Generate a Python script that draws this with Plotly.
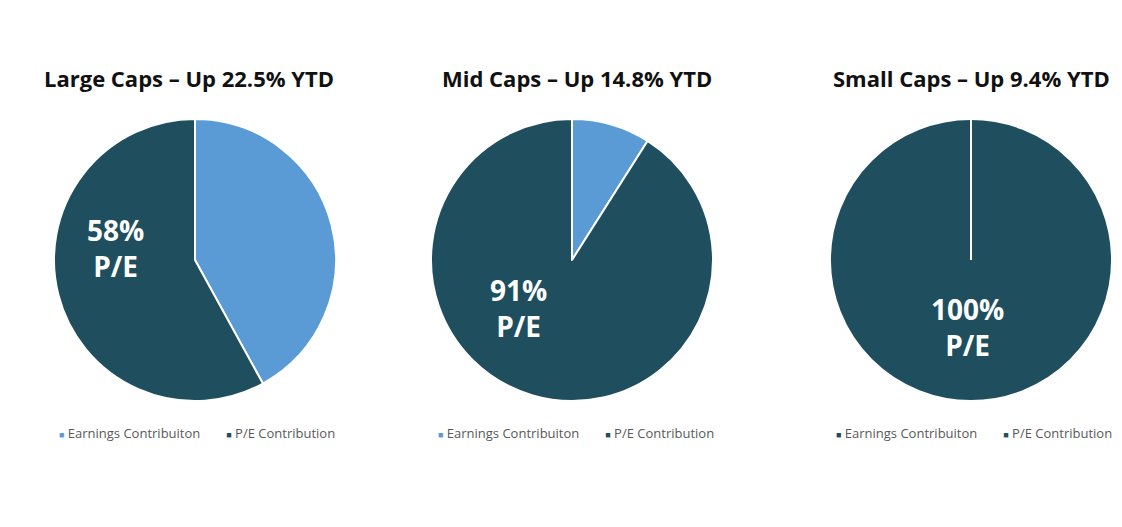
import plotly.graph_objects as go

W, H = 1122, 527

titles = ["Large Caps \u2013 Up 22.5% YTD", "Mid Caps \u2013 Up 14.8% YTD", "Small Caps \u2013 Up 9.4% YTD"]
categories = ["Earnings Contribuiton", "P/E Contribution"]
earnings = [42, 9, 0]
pe = [58, 91, 100]
labels = ["58%<br>P/E", "91%<br>P/E", "100%<br>P/E"]

LIGHT = "#5B9BD5"
DARK = "#1F4E5F"
GRAY = "#595959"
FONT = "Open Sans"

# layout (pixels)
centers_x = [195, 572, 971]
center_y = 260
radius = 141
label_off = [(-80, -12), (-54, 48), (-4, 67)]
title_x = [189, 577, 971]
legend_x = [197, 576, 974]

def px(x):
    return x / W

def py(y):
    return 1 - y / H

fig = go.Figure()
for i in range(3):
    cx = centers_x[i]
    colors = [LIGHT, DARK] if earnings[i] > 0 else [DARK, DARK]
    fig.add_trace(go.Pie(
        labels=categories,
        values=[earnings[i], pe[i]],
        sort=False,
        direction="clockwise",
        rotation=0,
        textinfo="none",
        hoverinfo="label+percent",
        marker=dict(colors=[LIGHT, DARK], line=dict(color="white", width=2)),
        domain=dict(x=[px(cx - radius), px(cx + radius)],
                    y=[py(center_y + radius), py(center_y - radius)]),
        showlegend=False,
    ))
    if earnings[i] == 0:
        # zero-size slice boundary at 12 o'clock
        fig.add_shape(type="line", xref="paper", yref="paper",
                      x0=px(cx), x1=px(cx), y0=py(center_y), y1=py(center_y - radius),
                      line=dict(color="white", width=2))
    fig.add_annotation(x=px(title_x[i]), y=py(78), xref="paper", yref="paper",
                       xanchor="center", yanchor="middle",
                       text="<b>" + titles[i] + "</b>", showarrow=False,
                       font=dict(family=FONT, size=22, color="#111111"))
    dx, dy = label_off[i]
    fig.add_annotation(x=px(cx + dx), y=py(center_y + dy), xref="paper", yref="paper",
                       xanchor="center", yanchor="middle",
                       text="<b>" + labels[i] + "</b>", showarrow=False,
                       font=dict(family=FONT, size=28, color="white"), align="center")
    leg = (f'<span style="color:{colors[0]};font-size:9px">\u25a0</span> {categories[0]}'
           f'\u2003\u2003<span style="color:{colors[1]};font-size:9px">\u25a0</span> {categories[1]}')
    fig.add_annotation(x=px(legend_x[i]), y=py(433), xref="paper", yref="paper",
                       xanchor="center", yanchor="middle",
                       text=leg, showarrow=False,
                       font=dict(family=FONT, size=13, color=GRAY))

fig.update_layout(width=W, height=H, margin=dict(l=0, r=0, t=0, b=0),
                  paper_bgcolor="white", plot_bgcolor="white")
fig.write_html("out.html")
